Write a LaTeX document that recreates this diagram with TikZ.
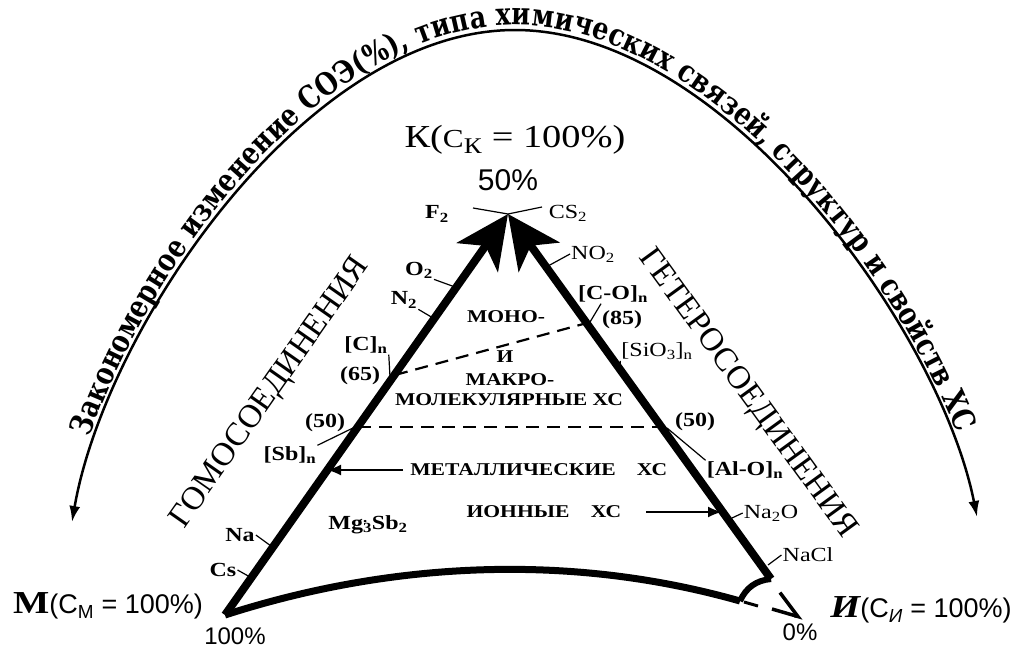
\documentclass[tikz,border=0pt]{standalone}
\usepackage{fontspec}
\setmainfont{Liberation Serif}[FakeStretch=1.2]
\newfontfamily\droitfont{Liberation Serif}
\newfontfamily\sansfont{Liberation Sans}
\newfontfamily\arcfont{DejaVu Serif}[FakeStretch=0.82]
\usetikzlibrary{arrows.meta,decorations.text}

\begin{document}
\begin{tikzpicture}[x=1pt,y=1pt]
	% Styles
	\tikzstyle{cote}=[line width=8pt,-{Stealth[length=53pt,width=50pt,inset=14pt]}]
	\tikzstyle{base}=[line width=7pt]
	\tikzstyle{trait}=[line width=1.2pt]
	\tikzstyle{tirets}=[line width=2.2pt,dash pattern=on 13pt off 8pt]
	\tikzstyle{fleche}=[line width=2pt,-{Latex[length=14pt,width=11pt]}]
	\tikzstyle{arcfleche}=[line width=2.5pt,{Latex[length=16pt,width=11pt]}-{Latex[length=16pt,width=11pt]}]
	\tikzstyle{formule}=[inner sep=1pt,font=\fontsize{20}{22}\selectfont]
	\tikzstyle{formuleG}=[inner sep=1pt,font=\bfseries\fontsize{20}{22}\selectfont]
	\tikzstyle{domaine}=[inner sep=1pt,font=\bfseries\fontsize{18}{20}\selectfont]
	\tikzstyle{grand}=[inner sep=0pt,font=\droitfont\fontsize{33}{35}\selectfont]
	\tikzstyle{pourcent}=[inner sep=0pt,font=\sansfont\fontsize{24}{26}\selectfont]
	% Cadre
	\useasboundingbox (0,0) rectangle (1021,-653);
	% Sommets
	\coordinate (sommetM) at (225,-615);
	\coordinate (sommetK) at (508,-214);
	\coordinate (sommetI) at (771,-579);
	\coordinate (finBase) at (740,-601);
	% Arc du haut
	\coordinate (arcG) at (72,-522);
	\coordinate (arcH) at (515,-30);
	\coordinate (arcD) at (977,-517);
	\draw[arcfleche] (arcG) .. controls (105,-330) and (305,-30) .. (arcH) .. controls (725,-30) and (940,-330) .. (arcD);
	\path[decorate,decoration={text along path,text align=center,raise=5pt,
		text={|\arcfont\bfseries\fontsize{31}{33}\selectfont|Закономерное изменение СОЭ({\%}), типа химических связей, структур и свойств ХС}}]
		(arcG) .. controls (105,-330) and (305,-30) .. (arcH) .. controls (725,-30) and (940,-330) .. (arcD);
	% Limites des domaines
	\coordinate (g65) at (395,-375);
	\coordinate (d85) at (587,-323);
	\coordinate (g50) at (358,-427);
	\coordinate (d50) at (662,-427);
	\draw[tirets] (g65) -- (d85);
	\draw[tirets] (g50) -- (d50);
	% Triangle
	\draw[base] (sommetM) .. controls (380,-565) and (560,-550) .. (finBase);
	\draw[line width=6pt] (finBase) to[bend left=30] (sommetI);
	\draw[cote] (sommetM) -- (sommetK);
	\draw[cote] (sommetI) -- (sommetK);
	\coordinate (tiretA) at (744,-602);
	\coordinate (tiretB) at (758,-606);
	\coordinate (flecheA) at (772,-609);
	\coordinate (flecheB) at (803,-618);
	\draw[line width=3pt] (tiretA) -- (tiretB);
	\draw[line width=3.5pt,-{Straight Barb[left,length=24pt,width=36pt]}] (flecheA) -- (flecheB);
	% Sommets : textes
	\node[inner sep=0pt] (labelK) at (515,-140) {\fontsize{32}{34}\selectfont К({\fontsize{26}{28}\selectfont С}\textsubscript{К} = 100\%)};
	\node[inner sep=0pt,font=\sansfont\fontsize{30}{32}\selectfont] (pctK) at (508,-180) {50\%};
	\node[inner sep=0pt] (labelM) at (108,-606) {{\bfseries\fontsize{32}{34}\selectfont М}{\sansfont\fontsize{27}{29}\selectfont(С\textsubscript{М} = 100\%)}};
	\node[pourcent] (pctM) at (235,-636) {100\%};
	\node[inner sep=0pt] (labelI) at (921,-610) {{\bfseries\itshape\fontsize{32}{34}\selectfont И}{\sansfont\fontsize{27}{29}\selectfont(С\textsubscript{\textit{И}} = 100\%)}};
	\node[pourcent] (pctI) at (800,-632) {0\%};
	% Cotes
	\node[grand,rotate=55] (homo) at (271,-393) {ГОМОСОЕДИНЕНИЯ};
	\node[grand,rotate=-54] (hetero) at (747,-394) {ГЕТЕРОСОЕДИНЕНИЯ};
	% Composes, cote gauche
	\node[formuleG] (F2) at (437,-214) {F\textsubscript{2}};
	\node[formule] (CS2) at (568,-213) {CS\textsubscript{2}};
	\node[formuleG] (O2) at (419,-270) {O\textsubscript{2}};
	\node[formuleG] (N2) at (404,-300) {N\textsubscript{2}};
	\node[formuleG] (Cn) at (366,-345) {[C]\textsubscript{n}};
	\node[formuleG] (g65txt) at (360,-376) {(65)};
	\node[formuleG] (g50txt) at (325,-423) {(50)};
	\node[formuleG] (Sbn) at (290,-455) {[Sb]\textsubscript{n}};
	\node[formuleG] (Na) at (240,-535) {Na};
	\node[formuleG] (Cs) at (223,-570) {Cs};
	\node[formuleG] (MgSb) at (368,-525) {Mg\rlap{\textsuperscript{.}}\textsubscript{3}Sb\textsubscript{2}};
	% Composes, cote droit
	\node[formule] (NO2) at (593,-254) {NO\textsubscript{2}};
	\node[formuleG] (COn) at (613,-294) {[C-O]\textsubscript{n}};
	\node[formuleG] (d85txt) at (622,-320) {(85)};
	\node[formule] (SiOn) at (657,-351) {[SiO\textsubscript{3}]\textsubscript{n}};
	\node[formuleG] (d50txt) at (695,-422) {(50)};
	\node[formuleG] (AlOn) at (745,-470) {[Al-O]\textsubscript{n}};
	\node[formule] (Na2O) at (771,-513) {Na\textsubscript{2}O};
	\node[formule] (NaCl) at (808,-555) {NaCl};
	% Traits de rappel
	\coordinate (pF2) at (473,-208);
	\coordinate (pCS2) at (542,-207);
	\coordinate (pO2) at (455,-287);
	\coordinate (pN2) at (433,-318);
	\coordinate (pCn) at (390,-377);
	\coordinate (pSbn) at (355,-427);
	\coordinate (pNa) at (271,-546);
	\coordinate (pCs) at (250,-577);
	\coordinate (pNO2) at (548,-266);
	\coordinate (pCOn) at (590,-322);
	\coordinate (pSiOn) at (620,-370);
	\coordinate (pAlOn) at (667,-428);
	\coordinate (pNa2O) at (732,-518);
	\coordinate (pNaCl) at (768,-565);
	\draw[trait] (pF2) -- (sommetK) -- (pCS2);
	\draw[trait] (O2.south east) -- (pO2);
	\draw[trait] (N2.south east) -- (pN2);
	\draw[trait] (Cn.south east) -- (pCn);
	\draw[trait] (Sbn.north east) -- (pSbn);
	\draw[trait] (Na.east) -- (pNa);
	\draw[trait] (Cs.east) -- (pCs);
	\draw[trait] (NO2.west) -- (pNO2);
	\draw[trait] ([xshift=-12pt]COn.south) -- (pCOn);
	\draw[trait] (SiOn.south west) -- (pSiOn);
	\draw[trait] (AlOn.north west) -- (pAlOn);
	\draw[trait] (Na2O.west) -- (pNa2O);
	\draw[trait] (NaCl.west) -- (pNaCl);
	% Domaines
	\node[domaine] (mono) at (506,-317) {МОНО-};
	\node[domaine] (et) at (505,-357) {И};
	\node[domaine] (macro) at (510,-380) {МАКРО-};
	\node[domaine] (molec) at (509,-400) {МОЛЕКУЛЯРНЫЕ ХС};
	\node[domaine] (metal) at (513,-470) {МЕТАЛЛИЧЕСКИЕ};
	\node[domaine] (metalXC) at (652,-470) {ХС};
	\node[domaine] (ion) at (518,-512) {ИОННЫЕ};
	\node[domaine] (ionXC) at (606,-512) {ХС};
	\coordinate (pMetal) at (327,-470);
	\coordinate (pIon) at (722,-512);
	\draw[fleche] ([xshift=-6pt]metal.west) -- (pMetal);
	\draw[fleche] ([xshift=24pt]ionXC.east) -- (pIon);
\end{tikzpicture}
\end{document}
